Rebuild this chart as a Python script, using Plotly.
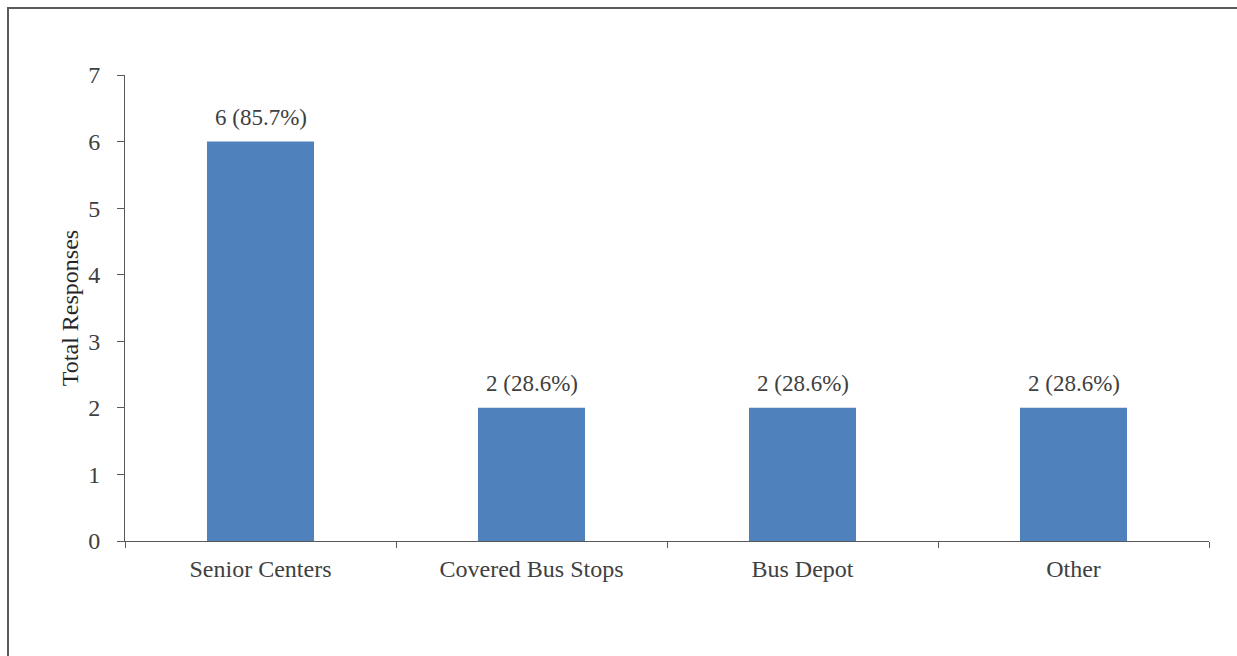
import plotly.graph_objects as go

categories = ["Senior Centers", "Covered Bus Stops", "Bus Depot", "Other"]
responses = [6, 2, 2, 2]
percents = [85.7, 28.6, 28.6, 28.6]
y_ticks = [0, 1, 2, 3, 4, 5, 6, 7]

W, H = 1237, 656
ML, MR, MT, MB = 125, 28, 75, 115
PW, PH = W - ML - MR, H - MT - MB

FONT = "Liberation Serif, Times New Roman, serif"
AXIS_COLOR = "#595959"
TEXT_COLOR = "#404040"

fig = go.Figure(
    go.Bar(
        x=categories,
        y=responses,
        marker=dict(color="#4F81BD", line=dict(width=0)),
        width=0.395,
        hoverinfo="skip",
    )
)

# value labels above each bar
for cat, val, pct in zip(categories, responses, percents):
    fig.add_annotation(
        x=cat, y=val, text=f"{val} ({pct}%)",
        showarrow=False, yanchor="bottom", yshift=10,
        font=dict(family=FONT, size=23, color=TEXT_COLOR),
    )

# outer frame of the chart area
fig.add_shape(
    type="rect", xref="paper", yref="paper",
    x0=(8 - ML) / PW, x1=(W + 20 - ML) / PW,
    y0=(MB - H - 20) / PH + 0, y1=(H - 8 - MB) / PH,
    line=dict(color="#5a5a5a", width=2), fillcolor="rgba(0,0,0,0)",
    layer="below",
)

fig.update_layout(
    width=W, height=H,
    margin=dict(l=ML, r=MR, t=MT, b=MB),
    paper_bgcolor="white", plot_bgcolor="white",
    showlegend=False,
    font=dict(family=FONT, size=23, color=TEXT_COLOR),
    xaxis=dict(
        type="category",
        showline=True, linecolor=AXIS_COLOR, linewidth=1,
        ticks="outside", tickson="boundaries", ticklen=6, tickcolor=AXIS_COLOR,
        showgrid=False, zeroline=False,
        ticklabelstandoff=6,
        tickfont=dict(family=FONT, size=24, color=TEXT_COLOR),
    ),
    yaxis=dict(
        range=[0, 7], tickvals=y_ticks,
        showline=True, linecolor=AXIS_COLOR, linewidth=1,
        ticks="outside", ticklen=7, tickcolor=AXIS_COLOR,
        showgrid=False, zeroline=False,
        ticklabelstandoff=12,
        tickfont=dict(family=FONT, size=24, color=TEXT_COLOR),
        title=dict(text="Total Responses", standoff=2,
                   font=dict(family=FONT, size=24, color="#262626")),
    ),
)

fig.write_html("out.html")
